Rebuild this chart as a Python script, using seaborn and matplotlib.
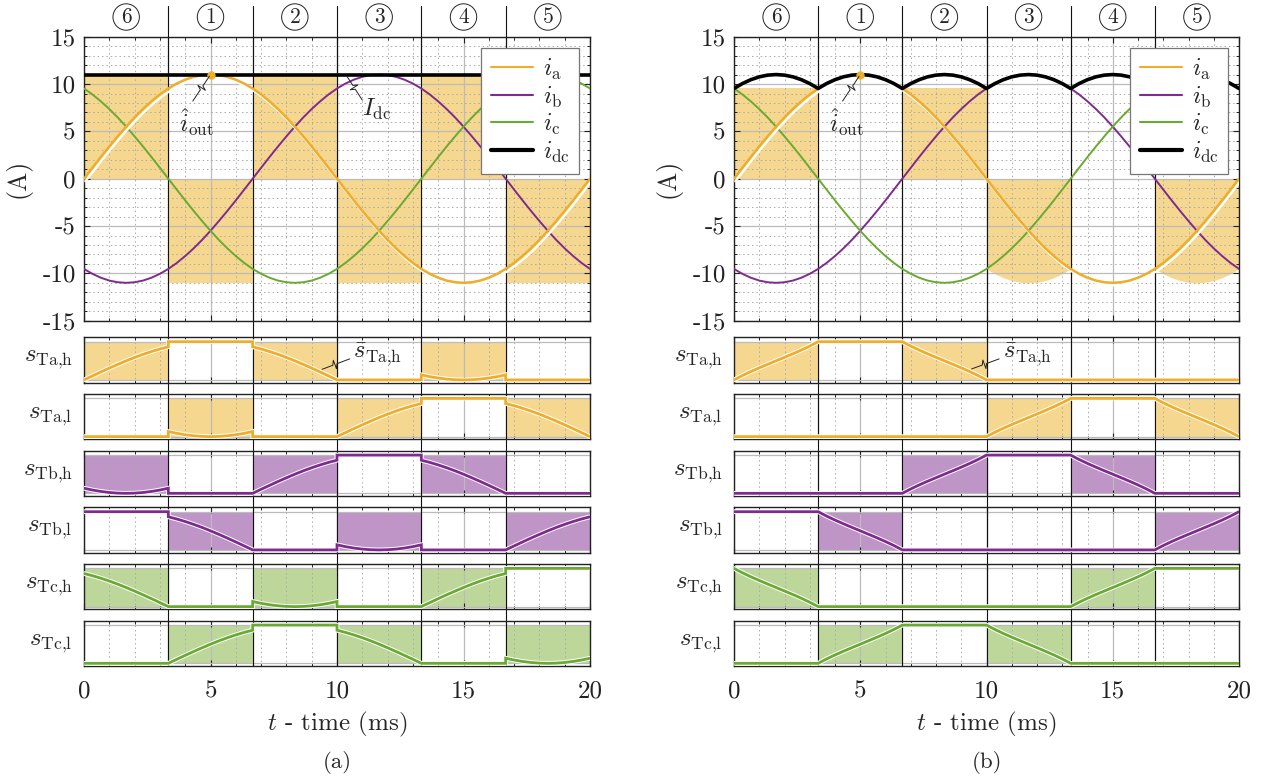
import numpy as np
import pandas as pd
import matplotlib
matplotlib.use("Agg")
import matplotlib.pyplot as plt
import matplotlib.patheffects as pe
import matplotlib.transforms as mtransforms
from matplotlib.lines import Line2D
from matplotlib.patches import ConnectionStyle
from matplotlib.path import Path
from matplotlib.ticker import MultipleLocator
import seaborn as sns

# ---------------------------------------------------------------- data
# time axis: one sample every 1/3 ms over one 50 Hz period (0..20 ms)
t_ms = np.arange(61) / 3.0

# phase currents (A)
i_a = [0.00, 1.15, 2.29, 3.40, 4.47, 5.50, 6.47, 7.36, 8.17, 8.90,
       9.53, 10.05, 10.46, 10.76, 10.94, 11.00, 10.94, 10.76, 10.46, 10.05,
       9.53, 8.90, 8.17, 7.36, 6.47, 5.50, 4.47, 3.40, 2.29, 1.15,
       0.00, -1.15, -2.29, -3.40, -4.47, -5.50, -6.47, -7.36, -8.17, -8.90,
       -9.53, -10.05, -10.46, -10.76, -10.94, -11.00, -10.94, -10.76, -10.46, -10.05,
       -9.53, -8.90, -8.17, -7.36, -6.47, -5.50, -4.47, -3.40, -2.29, -1.15,
       0.00]
i_b = [-9.53, -10.05, -10.46, -10.76, -10.94, -11.00, -10.94, -10.76, -10.46, -10.05,
       -9.53, -8.90, -8.17, -7.36, -6.47, -5.50, -4.47, -3.40, -2.29, -1.15,
       0.00, 1.15, 2.29, 3.40, 4.47, 5.50, 6.47, 7.36, 8.17, 8.90,
       9.53, 10.05, 10.46, 10.76, 10.94, 11.00, 10.94, 10.76, 10.46, 10.05,
       9.53, 8.90, 8.17, 7.36, 6.47, 5.50, 4.47, 3.40, 2.29, 1.15,
       0.00, -1.15, -2.29, -3.40, -4.47, -5.50, -6.47, -7.36, -8.17, -8.90,
       -9.53]
i_c = [9.53, 8.90, 8.17, 7.36, 6.47, 5.50, 4.47, 3.40, 2.29, 1.15,
       0.00, -1.15, -2.29, -3.40, -4.47, -5.50, -6.47, -7.36, -8.17, -8.90,
       -9.53, -10.05, -10.46, -10.76, -10.94, -11.00, -10.94, -10.76, -10.46, -10.05,
       -9.53, -8.90, -8.17, -7.36, -6.47, -5.50, -4.47, -3.40, -2.29, -1.15,
       0.00, 1.15, 2.29, 3.40, 4.47, 5.50, 6.47, 7.36, 8.17, 8.90,
       9.53, 10.05, 10.46, 10.76, 10.94, 11.00, 10.94, 10.76, 10.46, 10.05,
       9.53]

# constant dc-link current of case (a)
idc_const = 11.0

# sector borders (sample indices into t_ms) and their labels
sector_idx = [0, 10, 20, 30, 40, 50, 60]
sector_labels = ["6", "1", "2", "3", "4", "5"]

phases = ["a", "b", "c"]
switch_names = ["Ta,h", "Ta,l", "Tb,h", "Tb,l", "Tc,h", "Tc,l"]

# ---------------------------------------------------------------- style
c_line = {"a": "#EEAD2A", "b": "#7D2C8D", "c": "#6AA932"}
c_fill = {"a": "#F6D78F", "b": "#BF95C8", "c": "#BDD79B"}

sns.set_theme(style="ticks")
plt.rcParams.update({
    "font.family": "serif",
    "font.serif": ["cmr10", "DejaVu Serif"],
    "mathtext.fontset": "cm",
    "axes.unicode_minus": False,
    "axes.axisbelow": "line",
    "axes.edgecolor": "#222222",
    "axes.linewidth": 1.0,
    "axes.facecolor": "none",
    "xtick.direction": "in",
    "ytick.direction": "in",
    "xtick.color": "#222222",
    "ytick.color": "#222222",
})

W, H = 1262, 778
fig = plt.figure(figsize=(W / 100, H / 100), dpi=100)
fig.patch.set_facecolor("white")


class Zigzag(ConnectionStyle._Base):
    """Straight leader with a small lightning kink in the middle."""

    def __init__(self, size=4.0):
        self.size = size

    def connect(self, posA, posB):
        p0, p1 = np.asarray(posA, float), np.asarray(posB, float)
        d = p1 - p0
        u = d / max(np.hypot(*d), 1e-9)
        n = np.array([-u[1], u[0]])
        s = self.size
        m = p0 + 0.5 * d
        verts = [p0, m - u * s * 0.5, m + n * s, m - n * s, m + u * s * 0.5, p1]
        return Path(verts, [Path.MOVETO] + [Path.LINETO] * 5)


def leader(ax, text, xy, end, xytext, ha="center"):
    ax.annotate("", xy=xy, xytext=end, zorder=6,
                arrowprops=dict(arrowstyle="-", color="#222222", lw=0.7,
                                shrinkA=0, shrinkB=1.5, connectionstyle=Zigzag(4.5)))
    ax.text(*xytext, text, fontsize=17.5, ha=ha, va="center", zorder=6)


def px_rect(left, right, top, bottom):
    return [left / W, 1 - bottom / H, (right - left) / W, (bottom - top) / H]


def style_grid(ax):
    ax.xaxis.set_major_locator(MultipleLocator(5))
    ax.xaxis.set_minor_locator(MultipleLocator(1))
    ax.grid(True, which="major", color="#BBBBBB", lw=0.9, ls="-")
    ax.grid(True, which="minor", axis="x", color="#AAAAAA", lw=0.7, ls=(0, (1.5, 3)))
    ax.tick_params(which="both", top=True, right=True, colors="#222222")
    ax.tick_params(which="major", length=4, width=0.8)
    ax.tick_params(which="minor", length=2.5, width=0.7)
    ax.set_xlim(0, 20)


def switch_signals(cur, idc):
    """Duty cycles of the six switches, built sector by sector."""
    segs = {name: [] for name in switch_names}
    for s in range(6):
        k0, k1 = sector_idx[s], sector_idx[s + 1]
        sl = slice(k0, k1 + 1)
        mid = (k0 + k1) // 2
        dom = max(phases, key=lambda p: abs(cur[p][mid]))
        for p in phases:
            ratio = np.abs(cur[p][sl]) / idc[sl]
            pos = cur[p][mid] > 0
            ones, zeros = np.ones_like(ratio), np.zeros_like(ratio)
            if p == dom:
                hi, lo = (ones, 1 - ratio) if pos else (1 - ratio, ones)
            else:
                hi, lo = (ratio, zeros) if pos else (zeros, ratio)
            for name, val in ((f"T{p},h", hi), (f"T{p},l", lo)):
                segs[name].append((t_ms[sl], val, np.ptp(val) > 1e-9))
    return segs


def draw_panel(x_left, x_right, idc, pos_top, tag, idc_note):
    cur = {"a": np.array(i_a), "b": np.array(i_b), "c": np.array(i_c)}
    segs = switch_signals(cur, idc)

    # ---------------- main current plot
    ax = fig.add_axes(px_rect(x_left, x_right, 36.7, 320.7))
    style_grid(ax)
    ax.yaxis.set_major_locator(MultipleLocator(5))
    ax.yaxis.set_minor_locator(MultipleLocator(1))
    ax.grid(True, which="minor", axis="y", color="#AAAAAA", lw=0.7, ls=(0, (1.5, 3)))
    ax.set_ylim(-15, 15)
    ax.tick_params(labelbottom=False, labelsize=18, pad=6)

    # shaded sectors: a-high modulated -> positive, a-low modulated -> negative
    for (t_seg, _, mod_h), (_, _, mod_l) in zip(segs["Ta,h"], segs["Ta,l"]):
        mask = (t_ms >= t_seg[0] - 1e-9) & (t_ms <= t_seg[-1] + 1e-9)
        if mod_h:
            ax.fill_between(t_ms[mask], 0, pos_top[mask], color=c_fill["a"], lw=0, zorder=1)
        if mod_l:
            ax.fill_between(t_ms[mask], 0, -idc[mask], color=c_fill["a"], lw=0, zorder=1)

    df = pd.DataFrame({"t": t_ms, "ia": i_a, "ib": i_b, "ic": i_c, "idc": idc})
    sns.lineplot(data=df, x="t", y="ib", color=c_line["b"], lw=1.4, ax=ax, zorder=3)
    sns.lineplot(data=df, x="t", y="ic", color=c_line["c"], lw=1.4, ax=ax, zorder=3)
    sns.lineplot(data=df, x="t", y="ia", color=c_line["a"], lw=1.8, ax=ax, zorder=4,
                 path_effects=[pe.SimpleLineShadow(offset=(1.0, -1.8), shadow_color="white",
                                                   alpha=1, rho=1), pe.Normal()])
    sns.lineplot(data=df, x="t", y="idc", color="black", lw=2.6, ax=ax, zorder=4)
    ax.set_xlabel("")
    ax.set_ylabel("(A)", fontsize=18.5, labelpad=8)

    # peak marker of i_a
    k_pk = int(np.argmax(i_a))
    ax.plot(t_ms[k_pk], i_a[k_pk], "o", color=c_line["a"], ms=5, zorder=6)
    leader(ax, r"$\hat{i}_{\mathrm{out}}$", (t_ms[k_pk], i_a[k_pk]), (4.3, 8.2), (4.45, 6.0))
    if idc_note:
        leader(ax, r"$I_{\mathrm{dc}}$", (10.35, idc_const), (11.0, 8.3), (11.55, 7.3))

    handles = [Line2D([], [], color=c_line["a"], lw=1.5),
               Line2D([], [], color=c_line["b"], lw=1.5),
               Line2D([], [], color=c_line["c"], lw=1.5),
               Line2D([], [], color="black", lw=3.0)]
    labels = [r"$i_{\mathrm{a}}$", r"$i_{\mathrm{b}}$", r"$i_{\mathrm{c}}$", r"$i_{\mathrm{dc}}$"]
    leg = ax.legend(handles, labels, loc="upper right", fontsize=17.5, frameon=True,
                    fancybox=False, framealpha=1, facecolor="white", edgecolor="#777777",
                    handlelength=1.75, labelspacing=0.1, borderpad=0.38,
                    handletextpad=0.4, borderaxespad=0.45)
    leg.get_frame().set_linewidth(0.9)
    leg.set_zorder(10)

    edges = t_ms[sector_idx]
    for e in edges[1:-1]:
        ax.axvline(e, color="#111111", lw=0.8, zorder=2.2)

    # circled sector numbers above the plot
    trans = mtransforms.blended_transform_factory(ax.transData, fig.transFigure)
    for lab, a0, a1 in zip(sector_labels, edges[:-1], edges[1:]):
        ax.text((a0 + a1) / 2, 1 - 17 / H, lab, transform=trans, fontsize=15.5,
                ha="center", va="center",
                bbox=dict(boxstyle="circle,pad=0.16", fc="white", ec="#222222", lw=0.7))

    # sector borders running through the whole panel
    for e in edges[1:-1]:
        fig.add_artist(Line2D([e, e], [1 - 6 / H, 1 - 666 / H], transform=trans,
                              color="#111111", lw=0.8, zorder=-1))

    # ---------------- switching signal strips
    strip_tops = [337.3, 394.0, 450.7, 507.3, 564.0, 620.7]
    last = None
    for name, top in zip(switch_names, strip_tops):
        p = name[1]
        sx = fig.add_axes(px_rect(x_left, x_right, top, top + 45.3))
        style_grid(sx)
        sx.set_yticks([0, 1])
        sx.set_ylim(-0.07, 1.115)
        sx.tick_params(axis="y", which="both", length=0, labelleft=False)
        sx.tick_params(axis="x", labelbottom=False)
        tt, yy = [], []
        for t_seg, val, mod in segs[name]:
            if mod:
                sx.fill_between(t_seg, 0, 1, color=c_fill[p], lw=0, zorder=1)
            tt.append(t_seg)
            yy.append(val)
        sx.plot(np.concatenate(tt), np.concatenate(yy), color=c_line[p], lw=2.0, zorder=4,
                solid_joinstyle="miter",
                path_effects=[pe.withStroke(linewidth=3.4, foreground="white")])
        for e in edges[1:-1]:
            sx.axvline(e, color="#111111", lw=0.8, zorder=2.2)
        sub = name.replace(",", "{,}")
        sx.text(-0.022, 0.5, r"$s_{\mathrm{" + sub + "}}$", transform=sx.transAxes,
                fontsize=18, ha="right", va="center")
        if name == "Ta,h":
            k = 28
            leader(sx, r"$\bar{s}_{\mathrm{Ta{,}h}}$", (t_ms[k], segs[name][2][1][k - 20] + 0.05),
                   (10.5, 0.55), (10.65, 0.66), ha="left")
        last = sx

    last.tick_params(axis="x", labelbottom=True, labelsize=18, pad=10)
    last.set_xlabel(r"$t$ - time (ms)", fontsize=18, labelpad=6)
    fig.text((x_left + x_right) / 2 / W, 1 - 763 / H, tag, fontsize=16.5,
             ha="center", va="center")


cur_all = np.vstack([np.abs(i_a), np.abs(i_b), np.abs(i_c)])
idc_a = np.full(len(t_ms), idc_const)
idc_b = cur_all.max(axis=0)

draw_panel(84, 590, idc_a, idc_a, "(a)", True)
draw_panel(734, 1239, idc_b, np.full(len(t_ms), idc_b.min()), "(b)", False)

fig.savefig("out.png", dpi=100, facecolor="white")
